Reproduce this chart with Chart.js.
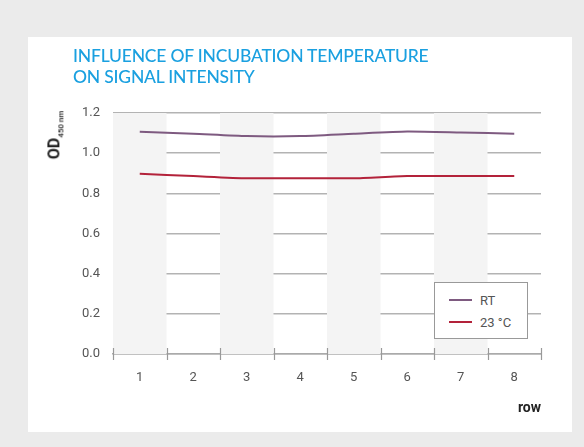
<!DOCTYPE html>
<html>
<head>
<meta charset="utf-8">
<script src="https://cdn.jsdelivr.net/npm/chart.js@4"></script>
<style>
    body { margin: 0; width: 584px; height: 447px; background: #ebebeb; position: relative; overflow: hidden; font-family: Roboto, sans-serif; }
    .panel { position: absolute; left: 28px; top: 37px; width: 544px; height: 395px; background: #fff; }
    canvas { position: absolute; left: 0; top: 0; }
    .title { position: absolute; left: 73px; top: 46px; margin: 0; font-family: Lato, sans-serif; font-weight: 500; font-size: 17.5px; line-height: 20.5px; color: #1aa0e0; letter-spacing: -0.2px; }
    .ylabel { position: absolute; left: 55px; top: 135px; transform: translate(-50%, -50%) rotate(-90deg); font-family: Roboto, sans-serif; font-weight: bold; font-size: 16px; color: #222; white-space: nowrap; }
    .ylabel sub { font-size: 8px; font-weight: 500; }
    .legend { position: absolute; left: 434px; top: 282px; width: 94px; height: 57px; border: 1px solid #999; background: #fff; box-sizing: border-box; font-size: 13px; color: #555; }
    .legend div { display: flex; align-items: center; height: 22px; margin-left: 14px; }
    .legend div:first-child { margin-top: 6px; }
    .legend span.sw { display: inline-block; width: 23px; height: 2px; margin-right: 8px; }
</style>
</head>
<body>
<div class="panel"></div>
<canvas id="chart" width="584" height="447"></canvas>
<h2 class="title">INFLUENCE OF INCUBATION TEMPERATURE<br>ON SIGNAL INTENSITY</h2>
<div class="ylabel">OD<sub>450 nm</sub></div>
<div class="legend" id="legend"></div>
<script>
const rows = ['1', '2', '3', '4', '5', '6', '7', '8'];
const rtValues = [1.107, 1.097, 1.085, 1.085, 1.097, 1.108, 1.103, 1.097];
const temp23Values = [0.897, 0.886, 0.875, 0.875, 0.875, 0.886, 0.886, 0.886];
const seriesNames = ['RT', '23 °C'];
const seriesColors = ['#7e5a80', '#b3223a'];

// light columns behind odd rows, plus axis tick marks crossing the baseline
const bandsPlugin = {
    id: 'bands',
    beforeDatasetsDraw(chart) {
        const { ctx, chartArea, scales } = chart;
        const x = scales.x;
        const w = x.width / rows.length;
        ctx.save();
        ctx.fillStyle = '#f4f4f4';
        rows.forEach((r, i) => {
            if (i % 2 === 0) {
                const cx = x.getPixelForValue(i);
                ctx.fillRect(cx - w / 2, chartArea.top, w, chartArea.bottom - chartArea.top);
            }
        });
        ctx.restore();
    },
    afterDraw(chart) {
        const { ctx, chartArea, scales } = chart;
        const x = scales.x;
        const w = x.width / rows.length;
        ctx.save();
        ctx.strokeStyle = '#999';
        ctx.lineWidth = 1.2;
        for (let i = 0; i <= rows.length; i++) {
            const px = Math.round(chartArea.left + i * w) + 0.5;
            ctx.beginPath();
            ctx.moveTo(px, chartArea.bottom - 6);
            ctx.lineTo(px, chartArea.bottom + 6);
            ctx.stroke();
        }
        ctx.restore();
    }
};

const ctx = document.getElementById('chart').getContext('2d');
const chart = new Chart(ctx, {
    type: 'line',
    data: {
        labels: rows,
        datasets: [
            { label: seriesNames[0], data: rtValues, borderColor: seriesColors[0], borderWidth: 2, pointRadius: 0, tension: 0.2 },
            { label: seriesNames[1], data: temp23Values, borderColor: seriesColors[1], borderWidth: 2, pointRadius: 0, tension: 0.2 }
        ]
    },
    options: {
        responsive: false,
        animation: false,
        layout: { padding: { top: 113, right: 43, left: 0, bottom: 26 } },
        plugins: { legend: { display: false }, tooltip: { enabled: false } },
        scales: {
            x: {
                offset: true,
                grid: { display: false },
                border: { color: '#aaa', width: 1.5 },
                ticks: { color: '#555', font: { family: 'Roboto', size: 13 }, padding: 8 },
                title: { display: true, text: 'row', align: 'end', color: '#222', font: { family: 'Roboto', size: 14, weight: 'bold' }, padding: { top: 0 } },
                afterFit(scale) { scale.height = 67; }
            },
            y: {
                min: 0,
                max: 1.2,
                afterFit(scale) { scale.width = 113; },
                grid: { color: '#b3b3b3', lineWidth: 1.5, drawTicks: false },
                border: { display: false },
                ticks: { stepSize: 0.2, color: '#555', padding: 13, font: { family: 'Roboto', size: 13 }, callback: v => v.toFixed(1) }
            }
        }
    },
    plugins: [bandsPlugin]
});

document.getElementById('legend').innerHTML = chart.data.datasets
    .map(d => `<div><span class="sw" style="background:${d.borderColor}"></span>${d.label}</div>`)
    .join('');
</script>
</body>
</html>
